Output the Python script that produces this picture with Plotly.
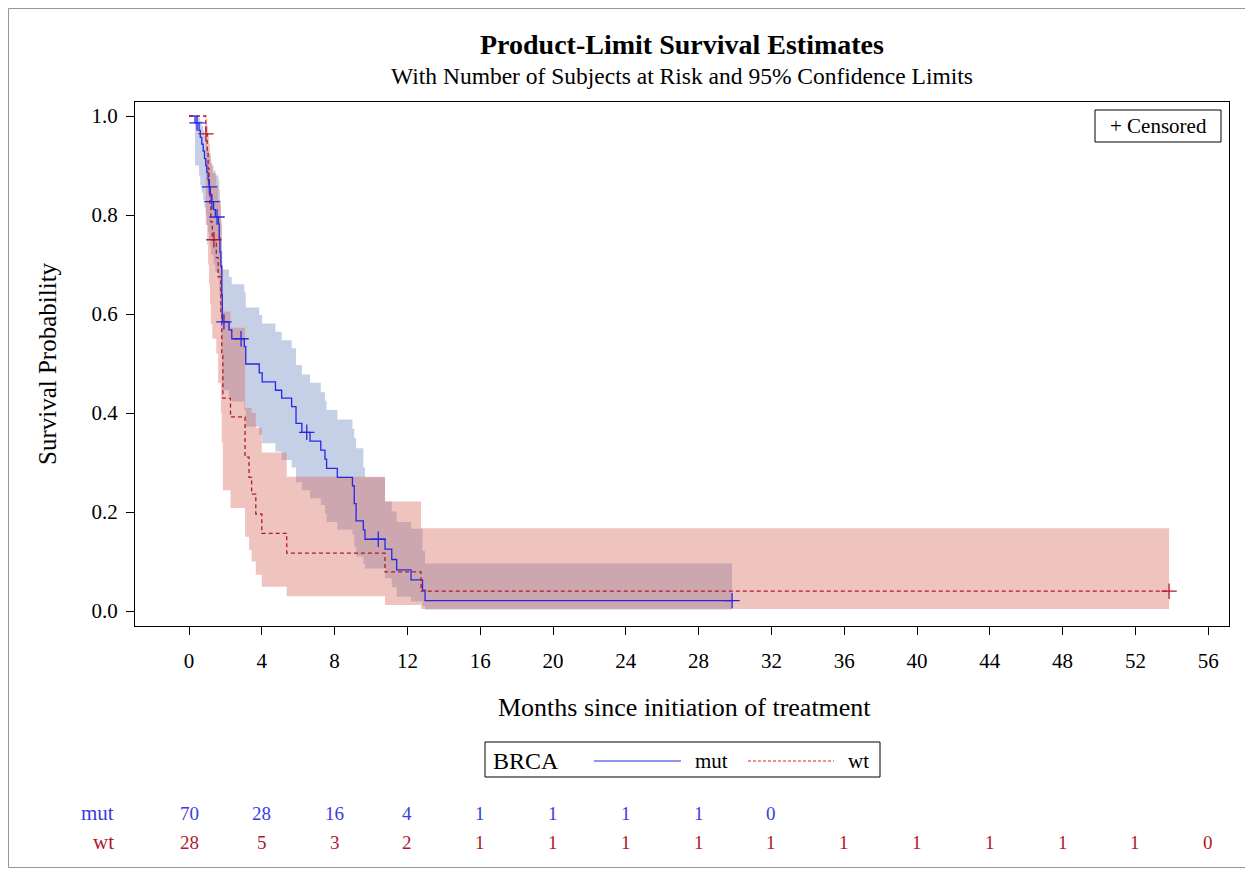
import plotly.graph_objects as go

# ---------------- data ----------------
# BRCA = mut : event times (months), KM survival, 95% lower / upper limits
mut_time = [0, 0.33, 0.55, 0.62, 0.70, 0.78, 0.85, 0.92, 0.98, 1.05, 1.10, 1.17, 1.22,
            1.35, 1.45, 1.62, 1.66, 1.70, 1.75, 1.80, 1.83, 2.20, 2.35, 3.04, 3.12,
            3.86, 4.02, 4.75, 5.09, 5.64, 5.88, 6.20, 6.65, 7.24, 7.47, 7.56, 8.15,
            8.98, 9.08, 9.18, 9.58, 9.67, 10.77, 11.14, 11.41, 12.20, 12.83, 12.97]
mut_surv = [1.0, 0.986, 0.971, 0.957, 0.943, 0.929, 0.914, 0.900, 0.886, 0.871, 0.857, 0.842, 0.827,
            0.811, 0.796, 0.782, 0.753, 0.725, 0.696, 0.639, 0.584, 0.568, 0.550, 0.534, 0.499,
            0.481, 0.463, 0.446, 0.430, 0.413, 0.379, 0.361, 0.343, 0.325, 0.307, 0.288, 0.270,
            0.253, 0.217, 0.182, 0.164, 0.145, 0.125, 0.104, 0.083, 0.063, 0.042, 0.021]
mut_lower = [1.0, 0.90, 0.88, 0.86, 0.845, 0.83, 0.815, 0.80, 0.78, 0.765, 0.75, 0.735, 0.72,
             0.70, 0.685, 0.67, 0.64, 0.61, 0.575, 0.51, 0.446, 0.433, 0.423, 0.406, 0.372,
             0.356, 0.339, 0.322, 0.305, 0.290, 0.260, 0.244, 0.228, 0.214, 0.197, 0.180, 0.164,
             0.154, 0.130, 0.110, 0.095, 0.086, 0.066, 0.048, 0.029, 0.019, 0.009, 0.003]
mut_upper = [1.0, 1.0, 0.995, 0.99, 0.98, 0.97, 0.96, 0.95, 0.94, 0.93, 0.92, 0.91, 0.90,
             0.89, 0.88, 0.87, 0.85, 0.82, 0.78, 0.73, 0.69, 0.675, 0.66, 0.644, 0.613,
             0.598, 0.581, 0.564, 0.547, 0.531, 0.497, 0.478, 0.461, 0.442, 0.425, 0.406, 0.387,
             0.368, 0.349, 0.329, 0.290, 0.270, 0.221, 0.201, 0.180, 0.166, 0.121, 0.096]
mut_last = 29.84
mut_cens_time = [0.44, 1.12, 1.26, 1.54, 1.92, 2.86, 6.47, 10.4, 29.84]

# BRCA = wt
wt_time = [0, 0.92, 1.00, 1.05, 1.10, 1.15, 1.20, 1.28, 1.50, 1.60, 1.75, 1.80, 1.86,
           2.28, 3.08, 3.30, 3.44, 3.67, 4.00, 5.37, 10.77, 12.75]
wt_surv = [1.0, 0.964, 0.929, 0.893, 0.857, 0.821, 0.786, 0.750, 0.714, 0.675, 0.600, 0.520, 0.430,
           0.392, 0.311, 0.270, 0.236, 0.196, 0.157, 0.117, 0.079, 0.040]
wt_lower = [1.0, 0.78, 0.74, 0.70, 0.66, 0.62, 0.58, 0.55, 0.52, 0.46, 0.40, 0.34, 0.244,
            0.208, 0.150, 0.123, 0.100, 0.073, 0.049, 0.030, 0.012, 0.004]
wt_upper = [1.0, 0.995, 0.98, 0.965, 0.945, 0.925, 0.905, 0.885, 0.86, 0.83, 0.79, 0.70, 0.605,
            0.572, 0.410, 0.410, 0.400, 0.370, 0.320, 0.271, 0.221, 0.167]
wt_last = 53.85
wt_cens_time = [0.93, 1.37, 53.85]

# number at risk table
risk_times = [0, 4, 8, 12, 16, 20, 24, 28, 32, 36, 40, 44, 48, 52, 56]
mut_at_risk = [70, 28, 16, 4, 1, 1, 1, 1, 0]
wt_at_risk = [28, 5, 3, 2, 1, 1, 1, 1, 1, 1, 1, 1, 1, 1, 0]

x_ticks = [0, 4, 8, 12, 16, 20, 24, 28, 32, 36, 40, 44, 48, 52, 56]
y_ticks = [0.0, 0.2, 0.4, 0.6, 0.8, 1.0]

# ---------------- styling ----------------
FONT = "Liberation Serif"
BLUE_LINE = "rgb(40,40,228)"
RED_LINE = "rgb(178,24,43)"
BLUE_TXT = "rgb(60,60,225)"
RED_TXT = "rgb(178,24,43)"
BLUE_FILL = "rgba(110,135,192,0.40)"
RED_FILL = "rgba(217,108,93,0.40)"

OFF = 8                               # page body margin of the html page
W, H = 1253 - OFF, 871 - OFF          # figure size
L, R, T, B = 135, 1229, 102, 626      # plot frame in page pixels
X0PX, XSCALE = 189.0, 18.2            # page pixel of month 0, px per month
Y0PX, YSCALE = 611.0, 495.0           # page pixel of survival 0, px per unit


def px_x(px):
    return (px - L) / (R - L)


def px_y(py):
    return (B - py) / (B - T)


def hv_path(times, vals, end):
    xs, ys = [], []
    for i, t in enumerate(times):
        if i > 0:
            xs.append(t)
            ys.append(vals[i - 1])
        xs.append(t)
        ys.append(vals[i])
    xs.append(end)
    ys.append(vals[-1])
    return xs, ys


def step_value(times, vals, t):
    v = vals[0]
    for tt, vv in zip(times, vals):
        if tt <= t:
            v = vv
    return v


fig = go.Figure()


def add_band(times, lower, upper, end, color):
    ux, uy = hv_path(times, upper, end)
    lx, ly = hv_path(times, lower, end)
    fig.add_trace(go.Scatter(x=ux + lx[::-1], y=uy + ly[::-1], fill="toself",
                             fillcolor=color, line=dict(width=0), mode="lines",
                             hoverinfo="skip", showlegend=False))


add_band(mut_time, mut_lower, mut_upper, mut_last, BLUE_FILL)
add_band(wt_time, wt_lower, wt_upper, wt_last, RED_FILL)

mx, my = hv_path(mut_time, mut_surv, mut_last)
fig.add_trace(go.Scatter(x=mx, y=my, mode="lines", line=dict(color=BLUE_LINE, width=1.3),
                         name="mut", showlegend=False))
wx, wy = hv_path(wt_time, wt_surv, wt_last)
fig.add_trace(go.Scatter(x=wx, y=wy, mode="lines",
                         line=dict(color=RED_LINE, width=1.3, dash="4px,3px"),
                         name="wt", showlegend=False))

fig.add_trace(go.Scatter(x=mut_cens_time,
                         y=[step_value(mut_time, mut_surv, t) for t in mut_cens_time],
                         mode="markers",
                         marker=dict(symbol="cross-thin", size=11, line=dict(width=1.3, color=BLUE_LINE)),
                         showlegend=False))
fig.add_trace(go.Scatter(x=wt_cens_time,
                         y=[step_value(wt_time, wt_surv, t) for t in wt_cens_time],
                         mode="markers",
                         marker=dict(symbol="cross-thin", size=11, line=dict(width=1.3, color=RED_LINE)),
                         showlegend=False))

annotations = []
shapes = []


def text(s, px, py, size, color="black", xanchor="center", angle=0, xref="paper", xval=None):
    annotations.append(dict(text=s, x=px_x(px) if xval is None else xval, y=px_y(py),
                            xref=xref, yref="paper", showarrow=False, xanchor=xanchor,
                            yanchor="middle", textangle=angle,
                            font=dict(family=FONT, size=size, color=color)))


# titles
text("<b>Product-Limit Survival Estimates</b>", 682, 45, 28)
text("With Number of Subjects at Risk and 95% Confidence Limits", 682, 76, 23.5)
text("Months since initiation of treatment", 684, 707, 26)
text("Survival Probability", 47, 364, 25, angle=-90)

# censored legend
shapes.append(dict(type="rect", xref="paper", yref="paper", x0=px_x(1095), x1=px_x(1221),
                   y0=px_y(142), y1=px_y(110), line=dict(color="black", width=1)))
text("+ Censored", 1158, 126, 21)

# group legend
shapes.append(dict(type="rect", xref="paper", yref="paper", x0=px_x(485), x1=px_x(880),
                   y0=px_y(777), y1=px_y(742), line=dict(color="black", width=1)))
text("BRCA", 526, 761, 24)
shapes.append(dict(type="line", xref="paper", yref="paper", x0=px_x(594), x1=px_x(681),
                   y0=px_y(761), y1=px_y(761), line=dict(color=BLUE_LINE, width=1.2)))
text("mut", 711, 761, 21)
shapes.append(dict(type="line", xref="paper", yref="paper", x0=px_x(748), x1=px_x(834),
                   y0=px_y(761), y1=px_y(761), line=dict(color="rgb(220,30,40)", width=1.2, dash="3px,2px")))
text("wt", 858, 761, 21)

# at-risk table
text("mut", 116, 813, 21, color=BLUE_TXT, xanchor="right")
text("wt", 116, 842, 21, color=RED_TXT, xanchor="right")
for t, n in zip(risk_times, mut_at_risk):
    text(str(n), 0, 813, 19, color=BLUE_TXT, xref="x", xval=t)
for t, n in zip(risk_times, wt_at_risk):
    text(str(n), 0, 842, 19, color=RED_TXT, xref="x", xval=t)

# outer border
shapes.append(dict(type="rect", xref="paper", yref="paper", x0=px_x(8.5), x1=px_x(1249.5),
                   y0=px_y(867.5), y1=px_y(8.5), line=dict(color="rgb(150,150,150)", width=1)))

fig.update_layout(
    width=W, height=H,
    margin=dict(l=L - OFF, r=OFF + W - R, t=T - OFF, b=OFF + H - B, pad=0),
    paper_bgcolor="white", plot_bgcolor="white",
    showlegend=False,
    annotations=annotations, shapes=shapes,
    font=dict(family=FONT, color="black"),
    xaxis=dict(range=[(L - X0PX) / XSCALE, (R - X0PX) / XSCALE], tickvals=x_ticks,
               ticks="outside", ticklen=8, tickcolor="black", showline=True, mirror=True,
               linecolor="black", linewidth=1, showgrid=False, zeroline=False,
               tickfont=dict(family=FONT, size=21, color="black"), ticklabelstandoff=8),
    yaxis=dict(range=[(Y0PX - B) / YSCALE, (Y0PX - T) / YSCALE], tickvals=y_ticks, tickformat=".1f",
               ticks="outside", ticklen=8, tickcolor="black", showline=True, mirror=True,
               linecolor="black", linewidth=1, showgrid=False, zeroline=False,
               tickfont=dict(family=FONT, size=21, color="black"), ticklabelstandoff=4),
)

fig.write_html("out.html")
